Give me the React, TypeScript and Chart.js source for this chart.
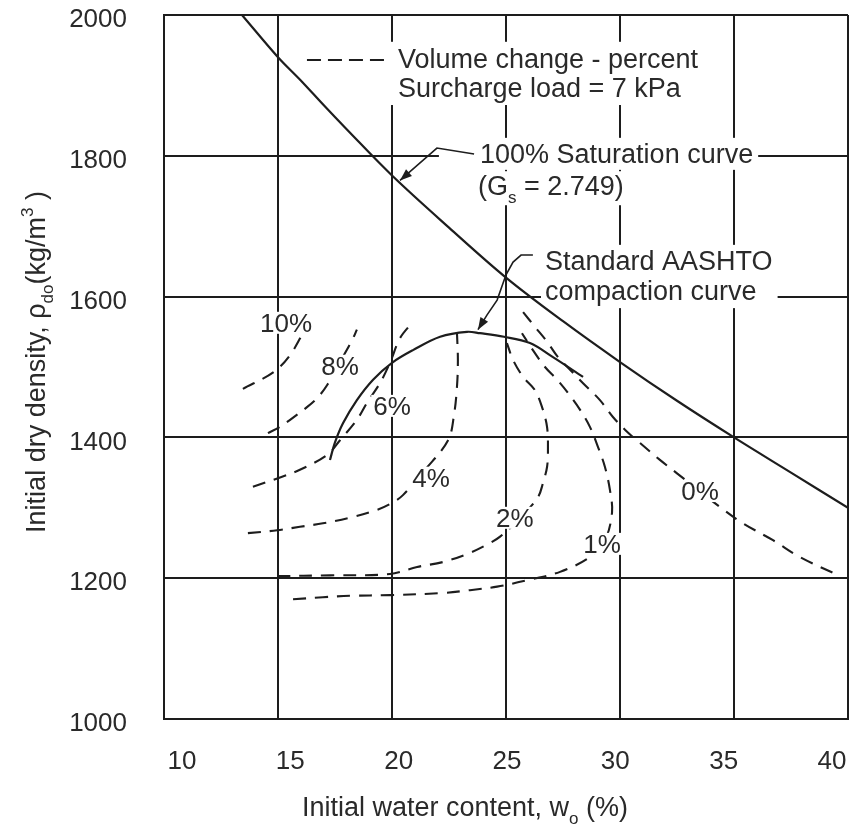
import React, { useEffect, useRef } from "react";
import { Chart, registerables } from "chart.js";

Chart.register(...registerables);

const FONT = '"Liberation Sans", Arial, Helvetica, sans-serif';
const INK = "#1d1d1d";
const TXT = "#2a2a2a";

// axis ticks
const xTicks = [10, 15, 20, 25, 30, 35, 40];
const yTicks = [1000, 1200, 1400, 1600, 1800, 2000];

// 100% saturation curve (Gs = 2.749)
const satX = [13.42, 15, 16, 17, 18, 20, 22.5, 25, 27.5, 30, 32.5, 35, 37.5, 40];
const satY = [2000, 1940, 1907, 1872, 1838, 1772, 1698, 1627, 1565, 1507, 1452, 1400, 1350, 1300];

// Standard AASHTO compaction curve
const aashtoX = [17.28, 17.5, 17.85, 18.46, 19.17, 20.0, 20.92, 22.11, 23.29, 23.86, 24.91, 26.05, 27.06, 28.38];
const aashtoY = [1368, 1393, 1420, 1453, 1482, 1506, 1524, 1543, 1550, 1548, 1543, 1534, 1514, 1486];

// Volume change contours (percent)
const v10X = [13.46, 14.82, 15.53, 16.1, 16.67];
const v10Y = [1469, 1493, 1517, 1548, 1577];

const v8X = [14.56, 15.09, 15.53, 16.27, 16.75, 17.15, 17.72, 18.25, 18.46];
const v8Y = [1406, 1415, 1425, 1443, 1457, 1474, 1507, 1538, 1553];

const v6X = [13.9, 15.0, 15.96, 17.15, 17.72, 18.46, 18.9, 19.47, 19.91, 20.35, 20.88];
const v6Y = [1330, 1342, 1354, 1375, 1396, 1425, 1449, 1477, 1506, 1541, 1563];

const v4X = [13.68, 14.96, 15.96, 16.97, 18.16, 19.34, 20.0, 20.48, 21.45, 22.46, 22.72, 22.85, 22.89, 22.85];
const v4Y = [1264, 1268, 1273, 1278, 1286, 1297, 1307, 1318, 1354, 1396, 1432, 1472, 1510, 1548];

const v2X = [14.96, 17.28, 19.91, 21.1, 22.24, 23.42, 24.3, 24.74, 25.61, 26.4, 26.62, 26.8, 26.84, 26.8, 26.58, 26.27, 25.75, 25.31, 25.04];
const v2Y = [1203, 1204, 1206, 1216, 1223, 1236, 1250, 1259, 1285, 1315, 1335, 1358, 1382, 1415, 1443, 1467, 1486, 1510, 1534];

const v1X = [15.66, 16.97, 18.16, 19.91, 22.24, 23.42, 24.61, 25.92, 27.37, 28.68, 29.34, 29.65, 29.56, 29.34, 29.04, 28.68, 28.25, 27.72, 27.24, 26.71, 26.18, 25.7];
const v1Y = [1170, 1173, 1175, 1176, 1179, 1183, 1188, 1197, 1209, 1230, 1254, 1293, 1325, 1358, 1386, 1415, 1439, 1463, 1482, 1500, 1524, 1548];

const v0X = [25.75, 26.27, 26.8, 27.28, 27.81, 28.38, 29.12, 29.69, 30.31, 30.88, 31.75, 32.5, 34.39, 35.39, 36.71, 37.89, 39.52];
const v0Y = [1578, 1557, 1536, 1514, 1496, 1477, 1453, 1429, 1408, 1392, 1368, 1349, 1301, 1278, 1254, 1230, 1205];

// contour labels
const pctLabels = ["10%", "8%", "6%", "4%", "2%", "1%", "0%"];
const pctLabelX = [15.35, 17.72, 20.0, 21.71, 25.39, 29.21, 33.51];
const pctLabelY = [1550, 1489, 1432, 1330, 1273, 1236, 1311];

// annotation texts
const legendLines = ["Volume change - percent", "Surcharge load = 7 kPa"];
const satLine1 = "100% Saturation curve";
const aashtoLines = ["Standard AASHTO", "compaction curve"];

type Seg = { t: string; k?: "sub" | "sup" };
const satLine2: Seg[] = [{ t: "(G" }, { t: "s", k: "sub" }, { t: " = 2.749)" }];
const xTitle: Seg[] = [{ t: "Initial water content, w" }, { t: "o", k: "sub" }, { t: " (%)" }];
const yTitle: Seg[] = [
  { t: "Initial dry density, \u03c1" },
  { t: "do", k: "sub" },
  { t: "(kg/m" },
  { t: "3", k: "sup" },
  { t: " )" },
];

// annotation anchors (data units)
const legendSample = { x1: 16.27, x2: 19.87, y: 1936 };
const legendText = { x: 20.26, y1: 1925, y2: 1883.5 };
const satText = { x1: 23.86, y1: 1790, x2: 23.77, y2: 1744 };
const satLeaderX = [23.6, 21.97, 20.35];
const satLeaderY = [1802.6, 1811, 1765];
const aashtoText = { x: 26.71, y1: 1638, y2: 1595 };
const aashtoLeaderX = [26.18, 25.66, 25.31, 25.0, 24.61, 24.17, 23.77];
const aashtoLeaderY = [1659, 1659, 1649, 1631, 1595, 1574, 1553];

const zip = (xs: number[], ys: number[]) => xs.map((x, i) => ({ x, y: ys[i] }));

function segFont(size: number, k?: string) {
  return `${k ? Math.round(size * 0.62) : size}px ${FONT}`;
}
function richWidth(ctx: CanvasRenderingContext2D, segs: Seg[], size: number) {
  let w = 0;
  for (const s of segs) {
    ctx.font = segFont(size, s.k);
    w += ctx.measureText(s.t).width;
  }
  return w;
}
function drawRich(ctx: CanvasRenderingContext2D, segs: Seg[], x: number, y: number, size: number, center: boolean) {
  let cx = center ? x - richWidth(ctx, segs, size) / 2 : x;
  ctx.textAlign = "left";
  ctx.textBaseline = "alphabetic";
  for (const s of segs) {
    ctx.font = segFont(size, s.k);
    const dy = s.k === "sub" ? size * 0.3 : s.k === "sup" ? -size * 0.45 : 0;
    ctx.fillText(s.t, cx, y + dy);
    cx += ctx.measureText(s.t).width;
  }
}
function arrowHead(ctx: CanvasRenderingContext2D, fx: number, fy: number, tx: number, ty: number) {
  const len = 12, half = 4.5;
  const a = Math.atan2(ty - fy, tx - fx);
  ctx.beginPath();
  ctx.moveTo(tx, ty);
  ctx.lineTo(tx - len * Math.cos(a) + half * Math.sin(a), ty - len * Math.sin(a) - half * Math.cos(a));
  ctx.lineTo(tx - len * Math.cos(a) - half * Math.sin(a), ty - len * Math.sin(a) + half * Math.cos(a));
  ctx.closePath();
  ctx.fill();
}

const ANN = 27;
const PCT = 26;

function boxes(chart: any) {
  const ctx: CanvasRenderingContext2D = chart.ctx;
  const sx = (v: number) => chart.scales.x.getPixelForValue(v);
  const sy = (v: number) => chart.scales.y.getPixelForValue(v);
  ctx.font = `${ANN}px ${FONT}`;
  const out: { x: number; y: number; w: number; h: number }[] = [];
  // legend block
  const lw = Math.max(...legendLines.map((t) => ctx.measureText(t).width));
  const l0 = sx(legendSample.x1) - 6;
  const lt = sx(legendText.x);
  out.push({ x: l0, y: sy(legendText.y1) - 26, w: lt + lw + 6 - l0, h: sy(legendText.y2) - sy(legendText.y1) + 34 });
  // saturation text
  const s1 = sx(satText.x1);
  const e1 = sx(satLeaderX[1]) + 2;
  const w1 = ctx.measureText(satLine1).width;
  out.push({ x: e1, y: sy(satText.y1) - 25, w: s1 + w1 + 5 - e1, h: 32 });
  const s2 = sx(satText.x2);
  const w2 = richWidth(ctx, satLine2, ANN);
  out.push({ x: s2 - 3, y: sy(satText.y2) - 24, w: w2 + 8, h: 34 });
  // AASHTO text
  ctx.font = `${ANN}px ${FONT}`;
  const aw = Math.max(...aashtoLines.map((t) => ctx.measureText(t).width));
  const ax = sx(aashtoText.x);
  out.push({ x: ax - 4, y: sy(aashtoText.y1) - 25, w: aw + 9, h: sy(aashtoText.y2) - sy(aashtoText.y1) + 33 });
  return out;
}

const annotPlugin = {
  id: "annot",
  beforeDatasetsDraw(chart: any) {
    const ctx: CanvasRenderingContext2D = chart.ctx;
    ctx.save();
    ctx.fillStyle = "#ffffff";
    for (const b of boxes(chart)) ctx.fillRect(b.x, b.y, b.w, b.h);
    ctx.restore();
  },
  afterDatasetsDraw(chart: any) {
    const ctx: CanvasRenderingContext2D = chart.ctx;
    const sx = (v: number) => chart.scales.x.getPixelForValue(v);
    const sy = (v: number) => chart.scales.y.getPixelForValue(v);
    ctx.save();

    // contour labels with white backing
    ctx.font = `${PCT}px ${FONT}`;
    pctLabels.forEach((t, i) => {
      const cx = sx(pctLabelX[i]);
      const by = sy(pctLabelY[i]);
      const w = ctx.measureText(t).width;
      ctx.fillStyle = "#ffffff";
      ctx.fillRect(cx - w / 2 - 2, by - 20, w + 4, 22);
      ctx.fillStyle = TXT;
      ctx.textAlign = "center";
      ctx.textBaseline = "alphabetic";
      ctx.fillText(t, cx, by);
    });

    // legend sample
    ctx.strokeStyle = INK;
    ctx.lineWidth = 2;
    ctx.setLineDash([14, 7]);
    ctx.beginPath();
    ctx.moveTo(sx(legendSample.x1), sy(legendSample.y));
    ctx.lineTo(sx(legendSample.x2), sy(legendSample.y));
    ctx.stroke();
    ctx.setLineDash([]);

    ctx.fillStyle = TXT;
    ctx.font = `${ANN}px ${FONT}`;
    ctx.textAlign = "left";
    ctx.textBaseline = "alphabetic";
    ctx.fillText(legendLines[0], sx(legendText.x), sy(legendText.y1));
    ctx.fillText(legendLines[1], sx(legendText.x), sy(legendText.y2));
    ctx.fillText(satLine1, sx(satText.x1), sy(satText.y1));
    drawRich(ctx, satLine2, sx(satText.x2), sy(satText.y2), ANN, false);
    ctx.font = `${ANN}px ${FONT}`;
    ctx.fillText(aashtoLines[0], sx(aashtoText.x), sy(aashtoText.y1));
    ctx.fillText(aashtoLines[1], sx(aashtoText.x), sy(aashtoText.y2));

    // leaders
    ctx.strokeStyle = INK;
    ctx.fillStyle = INK;
    ctx.lineWidth = 1.6;
    const leader = (xs: number[], ys: number[]) => {
      ctx.beginPath();
      xs.forEach((x, i) => (i ? ctx.lineTo(sx(x), sy(ys[i])) : ctx.moveTo(sx(x), sy(ys[i]))));
      ctx.stroke();
      const n = xs.length - 1;
      arrowHead(ctx, sx(xs[n - 1]), sy(ys[n - 1]), sx(xs[n]), sy(ys[n]));
    };
    leader(satLeaderX, satLeaderY);
    leader(aashtoLeaderX, aashtoLeaderY);

    // axis titles
    ctx.fillStyle = TXT;
    const ca = chart.chartArea;
    drawRich(ctx, xTitle, ca.left + 301, 816, 27, true);
    ctx.save();
    ctx.translate(45, (ca.top + ca.bottom) / 2 - 5);
    ctx.rotate(-Math.PI / 2);
    drawRich(ctx, yTitle, 0, 0, 27, true);
    ctx.restore();

    ctx.restore();
  },
};

const solid = (xs: number[], ys: number[]) => ({
  data: zip(xs, ys),
  showLine: true,
  borderColor: INK,
  borderWidth: 2.2,
  pointRadius: 0,
  tension: 0.35,
  fill: false,
  xAxisID: "x",
  yAxisID: "y",
});
const dashed = (xs: number[], ys: number[]) => ({
  ...solid(xs, ys),
  borderWidth: 2.1,
  borderDash: [13, 9],
});

const noPad = (s: any) => {
  s.paddingTop = 0;
  s.paddingBottom = 0;
  s.paddingLeft = 0;
  s.paddingRight = 0;
};

export default function App() {
  const ref = useRef<HTMLCanvasElement>(null);
  useEffect(() => {
    const tickFont = { family: FONT, size: 26 };
    const chart = new Chart(ref.current as HTMLCanvasElement, {
      type: "scatter",
      data: {
        datasets: [
          solid(satX, satY),
          solid(aashtoX, aashtoY),
          dashed(v10X, v10Y),
          dashed(v8X, v8Y),
          dashed(v6X, v6Y),
          dashed(v4X, v4Y),
          dashed(v2X, v2Y),
          dashed(v1X, v1Y),
          dashed(v0X, v0Y),
        ] as any,
      },
      options: {
        animation: false,
        responsive: false,
        maintainAspectRatio: false,
        devicePixelRatio: 1,
        layout: { padding: { top: 15, right: 7, left: 0, bottom: 0 } },
        plugins: { legend: { display: false }, tooltip: { enabled: false } },
        scales: {
          x: {
            type: "linear",
            position: "bottom",
            min: 10,
            max: 40,
            afterBuildTicks: (s: any) => {
              s.ticks = xTicks.map((v) => ({ value: v }));
            },
            ticks: { display: false },
            grid: { color: INK, lineWidth: 2, drawTicks: false },
            border: { display: true, color: INK, width: 2 },
            afterFit: (s: any) => {
              s.height = 0;
              noPad(s);
            },
          },
          xl: {
            type: "linear",
            position: "bottom",
            min: 9.169,
            max: 40.74,
            afterBuildTicks: (s: any) => {
              s.ticks = xTicks.map((v) => ({ value: v }));
            },
            ticks: {
              font: tickFont,
              color: TXT,
              padding: 27,
              maxRotation: 0,
              autoSkip: false,
              callback: (v: any) => String(v),
            },
            grid: { display: false, drawTicks: false },
            border: { display: false },
            afterFit: (s: any) => {
              s.height = 106;
              noPad(s);
            },
          },
          y: {
            type: "linear",
            position: "left",
            min: 1000,
            max: 2000,
            afterBuildTicks: (s: any) => {
              s.ticks = yTicks.map((v) => ({ value: v }));
            },
            ticks: {
              font: tickFont,
              color: TXT,
              padding: 37,
              labelOffset: 5,
              callback: (v: any) => String(v),
            },
            grid: { color: INK, lineWidth: 2, drawTicks: false },
            border: { display: true, color: INK, width: 2 },
            afterFit: (s: any) => {
              s.width = 164;
              noPad(s);
            },
          },
        } as any,
      },
      plugins: [annotPlugin],
    });
    return () => chart.destroy();
  }, []);
  return (
    <div style={{ position: "absolute", left: 0, top: 0, width: 855, height: 825, background: "#ffffff" }}>
      <canvas ref={ref} width={855} height={825} style={{ display: "block", width: 855, height: 825 }} />
    </div>
  );
}
